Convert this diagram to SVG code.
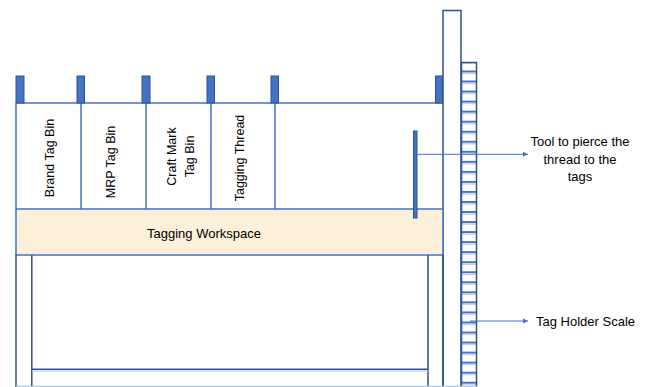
<svg xmlns="http://www.w3.org/2000/svg" width="646" height="387" viewBox="0 0 646 387">
<style>
.ol{fill:none;stroke:#4472C4;stroke-width:1.5}
.dk{fill:none;stroke:#2F528F;stroke-width:1.5}
.tab{fill:#4472C4;stroke:#2F528F;stroke-width:1}
.lbl{font-family:"Liberation Sans",Arial,sans-serif;font-size:12.5px;fill:#000}
.cal{font-family:"Liberation Sans",Arial,sans-serif;font-size:13px;fill:#000}
.con{stroke:#4472C4;stroke-width:1;fill:none}
.ws{fill:#FCF0DA;stroke:#4472C4;stroke-width:1.5}
</style>
<defs>
<marker id="ah" markerWidth="6" markerHeight="6" refX="5" refY="3" orient="auto" markerUnits="userSpaceOnUse">
<path d="M0,0.5 L5,3 L0,5.5 Z" fill="#4472C4"/>
</marker>
<pattern id="rungs" x="0" y="70.5" width="15" height="10.04" patternUnits="userSpaceOnUse">
<rect x="0" y="0" width="15" height="2" fill="#4472C4"/>
<rect x="0" y="2.5" width="15" height="1" fill="#B4C6E7"/>
</pattern>
</defs>
<rect width="646" height="387" fill="#fff"/>

<g id="column">
<rect x="443" y="10.5" width="18" height="380" class="dk"/>
</g>

<g id="scale">
<rect x="461.5" y="62.5" width="15" height="330" fill="url(#rungs)"/>
<rect x="461.5" y="62.5" width="15" height="330" class="dk"/>
</g>

<g id="bins">
<line x1="16" y1="103" x2="443" y2="103" class="ol"/>
<line x1="16" y1="103" x2="16" y2="209" class="ol"/>
<line x1="81" y1="103" x2="81" y2="209" class="ol"/>
<line x1="146" y1="103" x2="146" y2="209" class="ol"/>
<line x1="211" y1="103" x2="211" y2="209" class="ol"/>
<line x1="275" y1="103" x2="275" y2="209" class="ol"/>
</g>

<g id="tabs">
<rect x="16" y="76" width="8" height="27" class="tab"/>
<rect x="77" y="76" width="7.5" height="27" class="tab"/>
<rect x="142" y="76" width="8" height="27" class="tab"/>
<rect x="207" y="76" width="7.5" height="27" class="tab"/>
<rect x="271" y="76" width="7.5" height="27" class="tab"/>
<rect x="435.5" y="76" width="7" height="27" class="tab"/>
</g>

<g id="brand-bin"><text class="lbl" text-anchor="middle" transform="translate(54,158) rotate(-90)">Brand Tag Bin</text></g>
<g id="mrp-bin"><text class="lbl" text-anchor="middle" transform="translate(115,162) rotate(-90)">MRP Tag Bin</text></g>
<g id="craft-bin">
<text class="lbl" text-anchor="middle" transform="translate(176,156.5) rotate(-90)">Craft Mark</text>
<text class="lbl" text-anchor="middle" transform="translate(194,156.5) rotate(-90)">Tag Bin</text>
</g>
<g id="thread-bin"><text class="lbl" text-anchor="middle" transform="translate(244,158) rotate(-90)">Tagging Thread</text></g>

<g id="workspace">
<rect x="16" y="209" width="427" height="46" class="ws"/>
<text class="cal" x="204" y="237.5" text-anchor="middle">Tagging Workspace</text>
</g>

<g id="base">
<line x1="16" y1="255" x2="16" y2="387" class="dk"/>
<line x1="443" y1="255" x2="443" y2="387" class="dk"/>
<line x1="31.8" y1="255" x2="31.8" y2="387" class="dk"/>
<line x1="428" y1="255" x2="428" y2="387" class="dk"/>
<line x1="31.8" y1="369.3" x2="428" y2="369.3" class="dk"/>
<line x1="31.8" y1="371" x2="428" y2="371" stroke="#B4C6E7" stroke-width="1"/>
<line x1="16" y1="386.3" x2="477" y2="386.3" stroke="#B4C6E7" stroke-width="1.2"/>
</g>

<g id="tool">
<rect x="413.5" y="131" width="3.5" height="87" class="tab"/>
</g>

<g id="connectors">
<line x1="417" y1="154.3" x2="528" y2="154.3" class="con" marker-end="url(#ah)"/>
<line x1="470" y1="321" x2="528" y2="321" class="con" marker-end="url(#ah)"/>
</g>

<g id="tool-label">
<text class="cal" text-anchor="middle" x="580" y="146">Tool to pierce the</text>
<text class="cal" text-anchor="middle" x="580" y="163.5">thread to the</text>
<text class="cal" text-anchor="middle" x="580" y="181">tags</text>
</g>
<g id="scale-label"><text class="cal" x="536" y="325.5">Tag Holder Scale</text></g>
</svg>
